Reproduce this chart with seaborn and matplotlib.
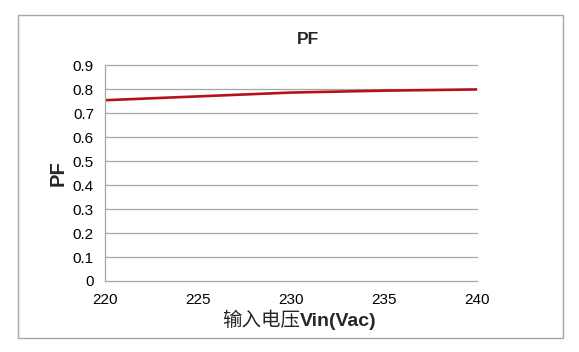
import matplotlib
matplotlib.use("Agg")
import matplotlib.pyplot as plt
import seaborn as sns
import pandas as pd
from matplotlib.patches import Rectangle

vin = [220, 225, 230, 235, 240]
pf = [0.755, 0.771, 0.787, 0.795, 0.800]
x_ticks = [220, 225, 230, 235, 240]
y_ticks = [0, 0.1, 0.2, 0.3, 0.4, 0.5, 0.6, 0.7, 0.8, 0.9]

sns.set_theme(style="white")
plt.rcParams['font.family'] = ['Liberation Sans', 'Noto Sans CJK SC', 'DejaVu Sans']

df = pd.DataFrame({"Vin": vin, "PF": pf})

fig = plt.figure(figsize=(5.79, 3.52), dpi=100)
fig.patch.set_facecolor("white")
W, H = 579, 352
ax = fig.add_axes([105 / W, 1 - 281 / H, (477 - 105) / W, (281 - 65.5) / H])

# outer chart border
fig.patches.append(Rectangle((17.5 / W, 1 - 338 / H), (563 - 17.5) / W, (338 - 15) / H,
                             transform=fig.transFigure, fill=False,
                             edgecolor="#a6a6a6", linewidth=1.0))

for yv in y_ticks[1:]:
    ax.axhline(yv, color="#a6a6a6", linewidth=0.9, zorder=0, clip_on=False)

sns.lineplot(data=df, x="Vin", y="PF", ax=ax, color="#b8101a", linewidth=1.9)

ax.set_xlim(220, 240)
ax.set_ylim(0, 0.9)
ax.set_xticks(x_ticks)
ax.set_yticks(y_ticks)
ax.set_xticklabels([str(v) for v in x_ticks])
ax.set_yticklabels(["0" if v == 0 else f"{v:.1f}" for v in y_ticks])
ax.tick_params(axis="both", labelsize=11, colors="#000000", length=5,
               width=0.9, direction="out", pad=3)
ax.tick_params(axis="both", color="#a6a6a6")
ax.tick_params(axis="x", pad=4)
for s in ["top", "right"]:
    ax.spines[s].set_visible(False)
for s in ["left", "bottom"]:
    ax.spines[s].set_color("#a6a6a6")
    ax.spines[s].set_linewidth(0.9)

ax.set_xlabel("")
ax.set_ylabel("")

fig.text(308 / W, 1 - 40 / H, "PF", ha="center", va="center", fontsize=12.5,
         fontweight="bold", family=["Liberation Sans", "DejaVu Sans"])
fig.text(58 / W, 1 - 173 / H, "PF", ha="center", va="center", rotation=90,
         fontsize=14.5, fontweight="bold", family=["Liberation Sans", "DejaVu Sans"])
fig.text(300 / W, 1 - 326 / H, "输入电压", ha="right", va="baseline", fontsize=14,
         family=["Noto Sans CJK SC", "DejaVu Sans"], fontweight="normal")
fig.text(300 / W, 1 - 326 / H, "Vin(Vac)", ha="left", va="baseline", fontsize=14,
         fontweight="bold", family=["Liberation Sans", "DejaVu Sans"])

fig.savefig("out.png", dpi=100, facecolor="white")
